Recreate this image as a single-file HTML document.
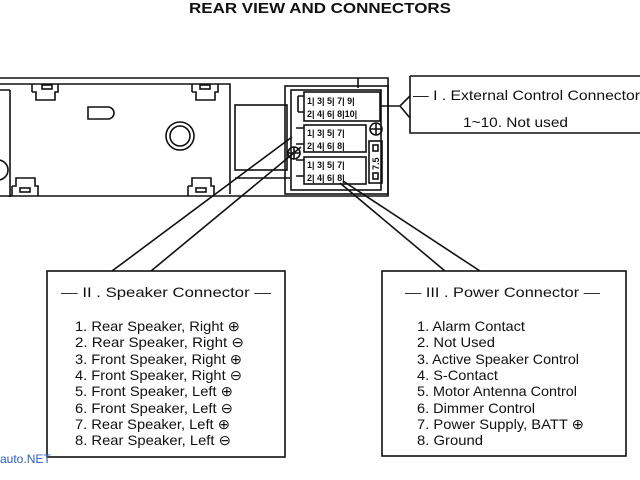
<!DOCTYPE html>
<html><head><meta charset="utf-8"><style>
html,body{margin:0;padding:0;background:#fff;}
svg{display:block;font-family:"Liberation Sans",sans-serif;}
</style></head><body>
<svg width="640" height="480" viewBox="0 0 640 480" xmlns="http://www.w3.org/2000/svg">
<rect width="640" height="480" fill="#fff"/>
<text x="320" y="13" text-anchor="middle" font-size="15" font-weight="bold" fill="#111" textLength="262" lengthAdjust="spacingAndGlyphs">REAR VIEW AND CONNECTORS</text>
<g fill="none" stroke="#111" stroke-width="1.6">
<path d="M0 78 H388 V196 H0"/>
<path d="M0 90 H10 M10 90 V197"/>
<path d="M0 84 H230 V194"/>
<path d="M32 84 V92 M32 92 H36 V100 H55 V92 H58 V84"/>
<path d="M192 84 V92 M192 92 H196 V100 H215 V92 H218 V84"/>
<path d="M12 196 V186 M12 186 H16 V178 H35 V186 H38 V196"/>
<path d="M188 196 V186 M188 186 H192 V178 H211 V186 H214 V196"/>
<rect x="42" y="85" width="10" height="4"/><rect x="200" y="85" width="10" height="4"/>
<rect x="20" y="188" width="10" height="4"/><rect x="196" y="188" width="10" height="4"/>
<path d="M88 107 H108 A6 6 0 0 1 108 119 H88 Z"/>
<circle cx="180" cy="136" r="14"/><circle cx="180" cy="136" r="10"/>
<circle cx="-2" cy="170" r="10"/>
<rect x="235" y="105" width="52" height="65"/>
<path d="M235 178 H290"/>
<path d="M358 78 V88"/>
<rect x="285" y="86" width="103" height="108"/>
<rect x="291" y="90" width="90" height="100"/>
<rect x="304" y="92" width="76" height="29"/>
<rect x="304" y="125" width="62" height="27"/>
<rect x="304" y="157" width="62" height="27"/>
<path d="M298 96 H304 M298 96 V112 M298 112 H304"/>
<path d="M296 128 H304 M296 144 H304"/>
<path d="M296 160 H304 M296 176 H304"/>
<circle cx="376" cy="129" r="6"/><path d="M370 129 H382 M376 123 V135"/>
<circle cx="294" cy="153" r="6"/><path d="M288 153 H300 M294 147 V159"/>
<rect x="369" y="141" width="13" height="42"/>
<rect x="373" y="145" width="5" height="6"/><rect x="373" y="173" width="5" height="6"/>
<path d="M112 271 L292 137"/>
<path d="M151 271 L301 147"/>
<path d="M445 271 L340 183"/>
<path d="M480 271 L343 181"/>
<path d="M381 106 H400 L410 96 M400 106 L410 118"/>
<path d="M410 76 H640 M410 76 V133 H640"/>
<rect x="47" y="271" width="238" height="186"/>
<rect x="382" y="271" width="244" height="185"/>
</g>
<g font-size="9" font-weight="bold" fill="#111">
<text x="307" y="104">1| 3| 5| 7| 9|</text>
<text x="307" y="117">2| 4| 6| 8|10|</text>
<text x="307" y="136">1| 3| 5| 7|</text>
<text x="307" y="149">2| 4| 6| 8|</text>
<text x="307" y="168">1| 3| 5| 7|</text>
<text x="307" y="181">2| 4| 6| 8|</text>
<text x="0" y="0" transform="translate(379,170) rotate(-90)" font-size="9">7.5</text>
</g>
<g font-size="14" fill="#111" lengthAdjust="spacingAndGlyphs">
<text x="413" y="100" textLength="227" lengthAdjust="spacingAndGlyphs">— I .  External  Control  Connector</text>
<text x="463" y="127" textLength="105" lengthAdjust="spacingAndGlyphs">1~10.  Not used</text>
<text x="61" y="297" textLength="210" lengthAdjust="spacingAndGlyphs">— II .  Speaker  Connector  —</text>
<text x="405" y="297" textLength="195" lengthAdjust="spacingAndGlyphs">— III .  Power  Connector  —</text>
<text x="75" y="331" textLength="165" lengthAdjust="spacingAndGlyphs">1.  Rear Speaker, Right ⊕</text>
<text x="75" y="347" textLength="169" lengthAdjust="spacingAndGlyphs">2.  Rear Speaker, Right  ⊖</text>
<text x="75" y="364" textLength="167" lengthAdjust="spacingAndGlyphs">3.  Front Speaker, Right ⊕</text>
<text x="75" y="380" textLength="167" lengthAdjust="spacingAndGlyphs">4.  Front Speaker, Right ⊖</text>
<text x="75" y="396" textLength="158" lengthAdjust="spacingAndGlyphs">5.  Front Speaker, Left ⊕</text>
<text x="75" y="413" textLength="158" lengthAdjust="spacingAndGlyphs">6.  Front Speaker, Left ⊖</text>
<text x="75" y="429" textLength="155" lengthAdjust="spacingAndGlyphs">7.  Rear Speaker, Left ⊕</text>
<text x="75" y="445" textLength="156" lengthAdjust="spacingAndGlyphs">8.  Rear Speaker, Left ⊖</text>
<text x="417" y="331" textLength="108" lengthAdjust="spacingAndGlyphs">1.  Alarm Contact</text>
<text x="417" y="347" textLength="78" lengthAdjust="spacingAndGlyphs">2.  Not Used</text>
<text x="417" y="364" textLength="162" lengthAdjust="spacingAndGlyphs">3.  Active Speaker Control</text>
<text x="417" y="380" textLength="81" lengthAdjust="spacingAndGlyphs">4.  S-Contact</text>
<text x="417" y="396" textLength="160" lengthAdjust="spacingAndGlyphs">5.  Motor Antenna Control</text>
<text x="417" y="413" textLength="118" lengthAdjust="spacingAndGlyphs">6.  Dimmer Control</text>
<text x="417" y="429" textLength="167" lengthAdjust="spacingAndGlyphs">7.  Power Supply, BATT ⊕</text>
<text x="417" y="445" textLength="66" lengthAdjust="spacingAndGlyphs">8.  Ground</text>
</g>
<text x="0" y="463" font-size="12" fill="#3060c0">auto.NET</text>
</svg>
</body></html>
